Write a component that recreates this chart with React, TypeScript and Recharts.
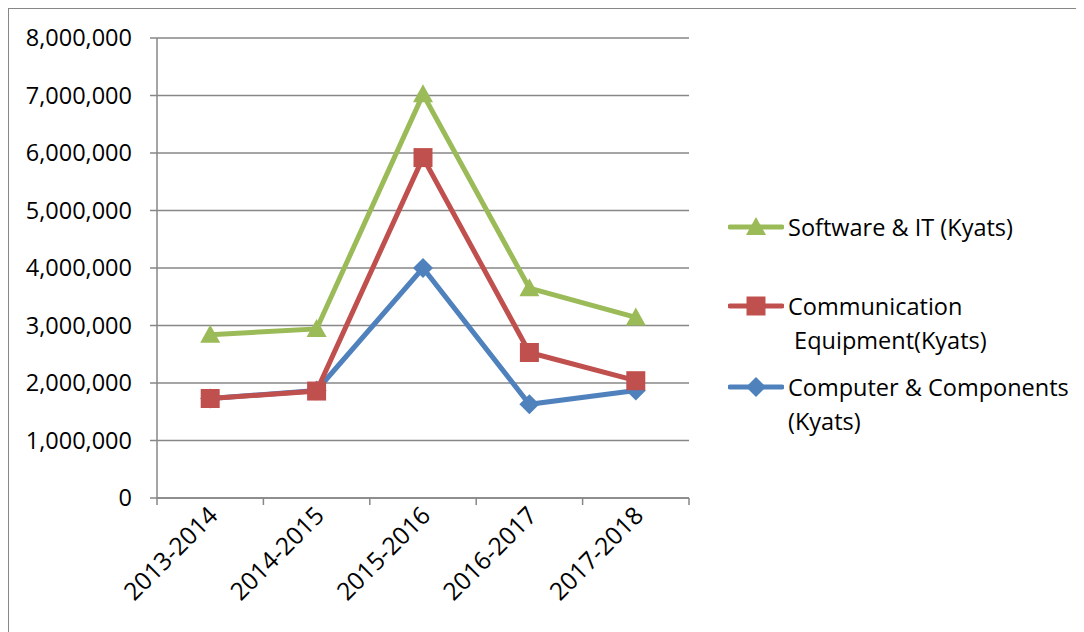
import React from "react";
import { LineChart, Line, XAxis, YAxis, CartesianGrid } from "recharts";

const periods = ["2013-2014", "2014-2015", "2015-2016", "2016-2017", "2017-2018"];
const softwareIT = [2840000, 2940000, 7020000, 3650000, 3140000];
const commEquipment = [1730000, 1860000, 5920000, 2530000, 2040000];
const computerComponents = [1730000, 1870000, 4000000, 1630000, 1870000];
const yTicks = [0, 1000000, 2000000, 3000000, 4000000, 5000000, 6000000, 7000000, 8000000];

const FONT = "'Open Sans', sans-serif";
const GRID = "#878787";

type Shape = "triangle" | "square" | "diamond";

const series: { key: string; name: string; legend: string; color: string; shape: Shape }[] = [
  { key: "computer", name: "Computer & Components (Kyats)", legend: "Computer & Components\n(Kyats)", color: "#4F81BD", shape: "diamond" },
  { key: "comm", name: "Communication  Equipment(Kyats)", legend: "Communication\n Equipment(Kyats)", color: "#C0504D", shape: "square" },
  { key: "software", name: "Software & IT (Kyats)", legend: "Software & IT (Kyats)", color: "#9BBB59", shape: "triangle" },
];

const data = periods.map((p, i) => ({
  period: p,
  software: softwareIT[i],
  comm: commEquipment[i],
  computer: computerComponents[i],
}));

function markerPath(shape: Shape, cx: number, cy: number): string {
  if (shape === "triangle") {
    return `M${cx},${cy - 10} L${cx + 10},${cy + 8} L${cx - 10},${cy + 8} Z`;
  }
  if (shape === "square") {
    return `M${cx - 9.5},${cy - 9.5} h19 v19 h-19 Z`;
  }
  return `M${cx},${cy - 10} L${cx + 10},${cy} L${cx},${cy + 10} L${cx - 10},${cy} Z`;
}

const makeDot = (shape: Shape, color: string) => (props: any) => {
  const { cx, cy, index } = props;
  if (cx == null || cy == null) return <g key={`e-${index}`} />;
  return <path key={`m-${shape}-${index}`} d={markerPath(shape, cx, cy)} fill={color} />;
};

const fmt = (v: number) => v.toLocaleString("en-US");

const XTick = (props: any) => {
  const { x, y, payload, index, visibleTicksCount } = props;
  const half = payload && payload.offset ? payload.offset : 0;
  const count = visibleTicksCount ?? periods.length;
  const ax = x + 9;
  const ay = y + 19;
  return (
    <g>
      <line x1={x - half} y1={y} x2={x - half} y2={y + 7} stroke={GRID} strokeWidth={1.5} />
      {index === count - 1 && (
        <line x1={x + half} y1={y} x2={x + half} y2={y + 7} stroke={GRID} strokeWidth={1.5} />
      )}
      <text
        x={ax}
        y={ay}
        textAnchor="end"
        fontFamily={FONT}
        fontSize={24.5}
        fill="#000"
        transform={`rotate(-45 ${ax} ${ay})`}
      >
        {payload.value}
      </text>
    </g>
  );
};

const legendOrder = ["software", "comm", "computer"];
const legendTops = [202, 281, 362];

export default function App() {
  return (
    <div style={{ position: "relative", width: 1076, height: 624, fontFamily: FONT }}>
      <div style={{ position: "absolute", left: -1, top: -1, width: 2, height: 626, background: GRID }} />
      <div style={{ position: "absolute", left: -1, top: -1, width: 1078, height: 2, background: GRID }} />
      <LineChart
        width={1076}
        height={624}
        data={data}
        margin={{ top: 30, right: 395, left: 0, bottom: 0 }}
      >
        <CartesianGrid vertical={false} stroke={GRID} strokeWidth={1.5} />
        <XAxis
          dataKey="period"
          scale="band"
          axisLine={{ stroke: GRID, strokeWidth: 1.5 }}
          tickLine={false}
          tickSize={0}
          tickMargin={0}
          height={134}
          interval={0}
          tick={<XTick />}
        />
        <YAxis
          width={149}
          domain={[0, 8000000]}
          ticks={yTicks}
          interval={0}
          tickFormatter={fmt}
          tickSize={7}
          tickMargin={18}
          axisLine={{ stroke: GRID, strokeWidth: 1.5 }}
          tickLine={{ stroke: GRID, strokeWidth: 1.5 }}
          tick={{ fill: "#000", fontSize: 23.5, fontFamily: FONT }}
        />
        {series.map((s) => (
          <Line
            key={s.key}
            type="linear"
            dataKey={s.key}
            name={s.name}
            stroke={s.color}
            strokeWidth={5}
            dot={makeDot(s.shape, s.color)}
            activeDot={false}
            isAnimationActive={false}
          />
        ))}
      </LineChart>
      {legendOrder.map((k, i) => {
        const s = series.find((x) => x.key === k)!;
        return (
          <div
            key={k}
            style={{ position: "absolute", left: 720, top: legendTops[i], display: "flex", alignItems: "flex-start" }}
          >
            <svg width={56} height={34} style={{ flex: "none" }}>
              <line x1={2} y1={17} x2={54} y2={17} stroke={s.color} strokeWidth={5} strokeLinecap="round" />
              <path d={markerPath(s.shape, 28, 17)} fill={s.color} />
            </svg>
            <div style={{ whiteSpace: "pre", fontSize: 23.5, lineHeight: "34px", color: "#000", marginLeft: 4 }}>
              {s.legend}
            </div>
          </div>
        );
      })}
    </div>
  );
}
